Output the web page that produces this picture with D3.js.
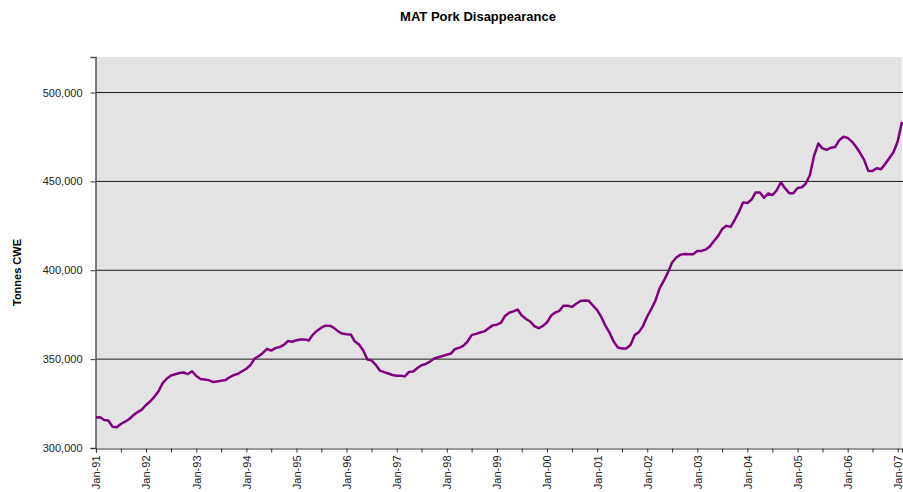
<!DOCTYPE html>
<html>
<head>
<meta charset="utf-8">
<script src="https://cdn.jsdelivr.net/npm/d3@7"></script>
<style>
    body { margin: 0; background: #fff; }
    svg { font-family: "Liberation Sans", Arial, sans-serif; }
</style>
</head>
<body>
<div id="chart"></div>
<script>
// monthly MAT values, Jan-91 .. Feb-07 (tonnes CWE)
const startMonth = new Date(1991, 0, 1);
const tonnes = [
    317200, 317300, 315800, 315500, 312000, 311700, 313500, 314800, 316300, 318500, 320200, 321600,
    324200, 326300, 328800, 332000, 336500, 339100, 340800, 341500, 342200, 342500, 341600, 343200,
    340500, 338800, 338600, 338200, 337200, 337400, 337900, 338200, 339800, 341000, 341800, 343200,
    344600, 346800, 350200, 351600, 353500, 355800, 354800, 356200, 356800, 358000, 360200, 359800,
    360600, 361100, 361100, 360500, 363800, 366000, 367700, 368800, 368800, 367600, 365600, 364400,
    364000, 363900, 360000, 358200, 355000, 349800, 349300, 346800, 343500, 342700, 341900, 341100,
    340600, 340700, 340300, 342800, 343000, 345000, 346600, 347300, 348600, 350400, 351100, 351800,
    352500, 353200, 355600, 356400, 357500, 359900, 363500, 364200, 365000, 365600, 367300, 369000,
    369400, 370500, 374300, 376100, 376900, 377900, 374600, 372600, 371200, 368600, 367400, 368600,
    370600, 374500, 376200, 377200, 380100, 380000, 379400, 381200, 382700, 383000, 382800, 380200,
    377600, 373600, 369000, 364900, 360000, 356500, 356000, 356000, 358000, 363500, 365200, 368600,
    374000, 378400, 382800, 389800, 394000, 398800, 404400, 407200, 408800, 409200, 409000, 409000,
    410900, 410900, 411600, 413300, 416300, 419200, 423200, 425000, 424400, 428400, 433000, 438200,
    437900, 439800, 443800, 443800, 440800, 443200, 442300, 444900, 449500, 446200, 443400, 443400,
    446300, 446700, 448700, 453600, 464500, 471300, 468600, 467800, 469000, 469300, 473200, 475100,
    474500, 472400, 469600, 466100, 462100, 455800, 455900, 457400, 456800, 459800, 463200, 466400,
    472600, 483500
];
const yTicks = [300000, 350000, 400000, 450000, 500000];
const yMax = 520000;

const width = 903;
const height = 492;
const margin = { top: 57, right: 1, bottom: 44, left: 96 };

const data = tonnes.map((v, i) => ({
    date: d3.timeMonth.offset(startMonth, i),
    value: v
}));

const svg = d3.select("#chart")
    .append("svg")
    .attr("width", width)
    .attr("height", height);

const x = d3.scaleTime()
    .domain([startMonth, data[data.length - 1].date])
    .range([margin.left, width - margin.right]);

const y = d3.scaleLinear()
    .domain([300000, yMax])
    .range([height - margin.bottom, margin.top]);

// plot area
svg.append("rect")
    .attr("x", margin.left)
    .attr("y", margin.top)
    .attr("width", width - margin.right - margin.left)
    .attr("height", y(300000) - margin.top)
    .attr("fill", "#e3e3e3");

// gridlines
svg.append("g")
    .selectAll("line")
    .data(yTicks.slice(1))
    .enter()
    .append("line")
    .attr("x1", margin.left)
    .attr("x2", width)
    .attr("y1", d => y(d))
    .attr("y2", d => y(d))
    .attr("stroke", "#1a1a1a")
    .attr("stroke-width", 1);

// y axis
const yAxis = d3.axisLeft(y)
    .tickValues(yTicks)
    .tickSize(5)
    .tickPadding(8)
    .tickFormat(d3.format(","));

svg.append("g")
    .attr("transform", `translate(${margin.left - 0.5}, 0)`)
    .call(yAxis)
    .call(g => g.select(".domain").attr("stroke", "#555").attr("stroke-width", 1.5))
    .call(g => g.selectAll(".tick line").attr("stroke", "#333"))
    .call(g => g.selectAll("text").attr("font-size", 11).attr("fill", "#222"));

// x axis: ticks every 6 months, labels on Jan only
const xTicks = d3.timeMonth.every(6).range(startMonth, d3.timeMonth.offset(data[data.length - 1].date, 1));
const xAxis = d3.axisBottom(x)
    .tickValues(xTicks)
    .tickSize(4)
    .tickFormat(d => d.getMonth() === 0 ? d3.timeFormat("Jan-%y")(d) : "");

svg.append("g")
    .attr("transform", `translate(0, ${y(300000) + 0.5})`)
    .call(xAxis)
    .call(g => g.select(".domain").attr("stroke", "#333").attr("stroke-width", 1.2))
    .call(g => g.selectAll(".tick line").attr("stroke", "#333"))
    .call(g => g.selectAll("text")
        .attr("font-size", 11)
        .attr("fill", "#222")
        .attr("transform", "rotate(-90)")
        .attr("text-anchor", "end")
        .attr("x", -7)
        .attr("y", 0)
        .attr("dy", "0.35em"));

// series line
const line = d3.line()
    .x(d => x(d.date))
    .y(d => y(d.value));

svg.append("path")
    .datum(data)
    .attr("fill", "none")
    .attr("stroke", "#800080")
    .attr("stroke-width", 2.5)
    .attr("stroke-linejoin", "round")
    .attr("d", line);

// titles
svg.append("text")
    .attr("x", 478)
    .attr("y", 21)
    .attr("text-anchor", "middle")
    .attr("font-size", 13)
    .attr("font-weight", "bold")
    .text("MAT Pork Disappearance");

svg.append("text")
    .attr("transform", "rotate(-90)")
    .attr("x", -(margin.top + y(300000)) / 2 - 20)
    .attr("y", 21)
    .attr("text-anchor", "middle")
    .attr("font-size", 11)
    .attr("font-weight", "bold")
    .text("Tonnes CWE");
</script>
</body>
</html>
